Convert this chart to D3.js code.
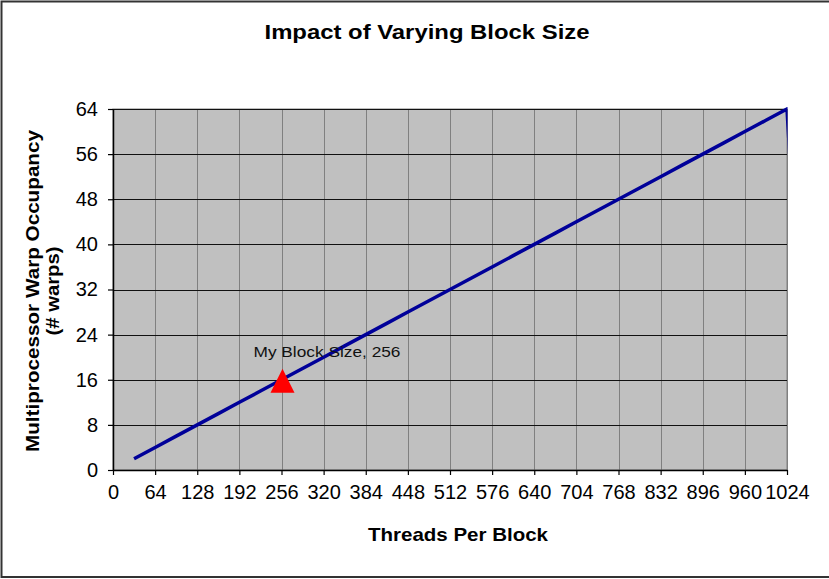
<!DOCTYPE html>
<html>
<head>
<meta charset="utf-8">
<script src="https://cdn.jsdelivr.net/npm/d3@7"></script>
<style>
  html, body { margin: 0; padding: 0; background: #fff; }
  svg { display: block; font-family: "Liberation Sans", Arial, sans-serif; }
</style>
</head>
<body>
<svg id="chart" width="829" height="579"></svg>
<script>
// Threads per block and resulting multiprocessor warp occupancy
const threadsPerBlock = [32, 64, 96, 128, 160, 192, 224, 256, 288, 320, 352, 384, 416, 448, 480, 512,
  544, 576, 608, 640, 672, 704, 736, 768, 800, 832, 864, 896, 928, 960, 992, 1024, 1056];
const warpOccupancy = [2, 4, 6, 8, 10, 12, 14, 16, 18, 20, 22, 24, 26, 28, 30, 32,
  34, 36, 38, 40, 42, 44, 46, 48, 50, 52, 54, 56, 58, 60, 62, 64, 0];

// Tick labels
const xTicks = [0, 64, 128, 192, 256, 320, 384, 448, 512, 576, 640, 704, 768, 832, 896, 960, 1024];
const yTicks = [0, 8, 16, 24, 32, 40, 48, 56, 64];

// Highlighted configuration
const myBlockSize = [256];
const myWarps = [16];
const myLabel = ["My Block Size, 256"];

const FONT = "'Liberation Sans', Arial, sans-serif";
const svg = d3.select("#chart");
const W = 829, H = 579;
const plot = { left: 113, right: 787, top: 109, bottom: 470 };

// Outer chart frame
svg.append("rect")
  .attr("x", 1.5).attr("y", 1.5)
  .attr("width", W + 10).attr("height", H - 3.5)
  .attr("fill", "#fff").attr("stroke", "#333").attr("stroke-width", 2);

const x = d3.scaleLinear().domain([0, 1024]).range([plot.left, plot.right]);
const y = d3.scaleLinear().domain([0, 64]).range([plot.bottom, plot.top]);

// Plot background
svg.append("rect")
  .attr("x", plot.left).attr("y", plot.top)
  .attr("width", plot.right - plot.left).attr("height", plot.bottom - plot.top)
  .attr("fill", "#c0c0c0").attr("stroke", "#808080").attr("stroke-width", 1);

// Vertical gridlines
svg.append("g").selectAll("line")
  .data(xTicks.slice(1))
  .join("line")
  .attr("x1", d => Math.round(x(d)) + 0.5).attr("x2", d => Math.round(x(d)) + 0.5)
  .attr("y1", plot.top).attr("y2", plot.bottom)
  .attr("stroke", "#808080").attr("stroke-width", 1);

// Horizontal gridlines
svg.append("g").selectAll("line")
  .data(yTicks.slice(1))
  .join("line")
  .attr("x1", plot.left).attr("x2", plot.right)
  .attr("y1", d => Math.round(y(d)) + 0.5).attr("y2", d => Math.round(y(d)) + 0.5)
  .attr("stroke", "#111").attr("stroke-width", 1);

// Axes
const xAxis = svg.append("g")
  .attr("transform", `translate(0,${plot.bottom})`)
  .call(d3.axisBottom(x).tickValues(xTicks).tickFormat(d3.format("d"))
    .tickSize(5).tickSizeOuter(0).tickPadding(10));
const yAxis = svg.append("g")
  .attr("transform", `translate(${plot.left},0)`)
  .call(d3.axisLeft(y).tickValues(yTicks).tickFormat(d3.format("d"))
    .tickSize(5).tickSizeOuter(0).tickPadding(10));
[xAxis, yAxis].forEach(g => {
  g.selectAll("path.domain").attr("stroke", "#000").attr("stroke-width", 1.5);
  g.selectAll(".tick line").attr("stroke", "#000").attr("stroke-width", 1.2);
  g.selectAll(".tick text")
    .attr("fill", "#000")
    .attr("font-family", FONT)
    .attr("font-size", 20);
});

// Occupancy line, clipped to the plot area
svg.append("clipPath").attr("id", "plotClip")
  .append("rect")
  .attr("x", plot.left).attr("y", plot.top - 2)
  .attr("width", plot.right - plot.left + 0.5).attr("height", plot.bottom - plot.top + 2);

const points = threadsPerBlock.map((t, i) => [t, warpOccupancy[i]]);
svg.append("path")
  .datum(points)
  .attr("clip-path", "url(#plotClip)")
  .attr("fill", "none")
  .attr("stroke", "#000099")
  .attr("stroke-width", 3.5)
  .attr("d", d3.line().x(d => x(d[0])).y(d => y(d[1])));

// Highlighted block size marker: a slightly tall triangle
const tallTriangle = {
  draw(ctx, size) {
    const w = Math.sqrt(size);
    ctx.moveTo(0, -w * 0.46);
    ctx.lineTo(w / 2, w * 0.54);
    ctx.lineTo(-w / 2, w * 0.54);
    ctx.closePath();
  }
};
svg.append("g").selectAll("path")
  .data(myBlockSize)
  .join("path")
  .attr("transform", (d, i) => `translate(${x(d) + 1},${y(myWarps[i])})`)
  .attr("d", d3.symbol().type(tallTriangle).size(576))
  .attr("fill", "#ff0000");

svg.append("g").selectAll("text")
  .data(myBlockSize)
  .join("text")
  .attr("x", d => x(d) - 28)
  .attr("y", (d, i) => y(myWarps[i]) - 23)
  .attr("font-size", 15)
  .attr("textLength", 147)
  .attr("lengthAdjust", "spacingAndGlyphs")
  .attr("fill", "#111")
  .text((d, i) => myLabel[i]);

// Titles
svg.append("text")
  .attr("x", 427).attr("y", 39)
  .attr("text-anchor", "middle")
  .attr("font-size", 21).attr("font-weight", "bold")
  .attr("textLength", 325).attr("lengthAdjust", "spacingAndGlyphs")
  .text("Impact of Varying Block Size");

svg.append("text")
  .attr("x", 458).attr("y", 541)
  .attr("text-anchor", "middle")
  .attr("font-size", 19).attr("font-weight", "bold")
  .attr("textLength", 180).attr("lengthAdjust", "spacingAndGlyphs")
  .text("Threads Per Block");

const yTitle = svg.append("g").attr("transform", "translate(39,291) rotate(-90)");
yTitle.append("text")
  .attr("x", 0).attr("y", 0)
  .attr("text-anchor", "middle")
  .attr("font-size", 19).attr("font-weight", "bold")
  .attr("textLength", 322).attr("lengthAdjust", "spacingAndGlyphs")
  .text("Multiprocessor Warp Occupancy");
yTitle.append("text")
  .attr("x", 0).attr("y", 20)
  .attr("text-anchor", "middle")
  .attr("font-size", 19).attr("font-weight", "bold")
  .attr("textLength", 89).attr("lengthAdjust", "spacingAndGlyphs")
  .text("(# warps)");
</script>
</body>
</html>
